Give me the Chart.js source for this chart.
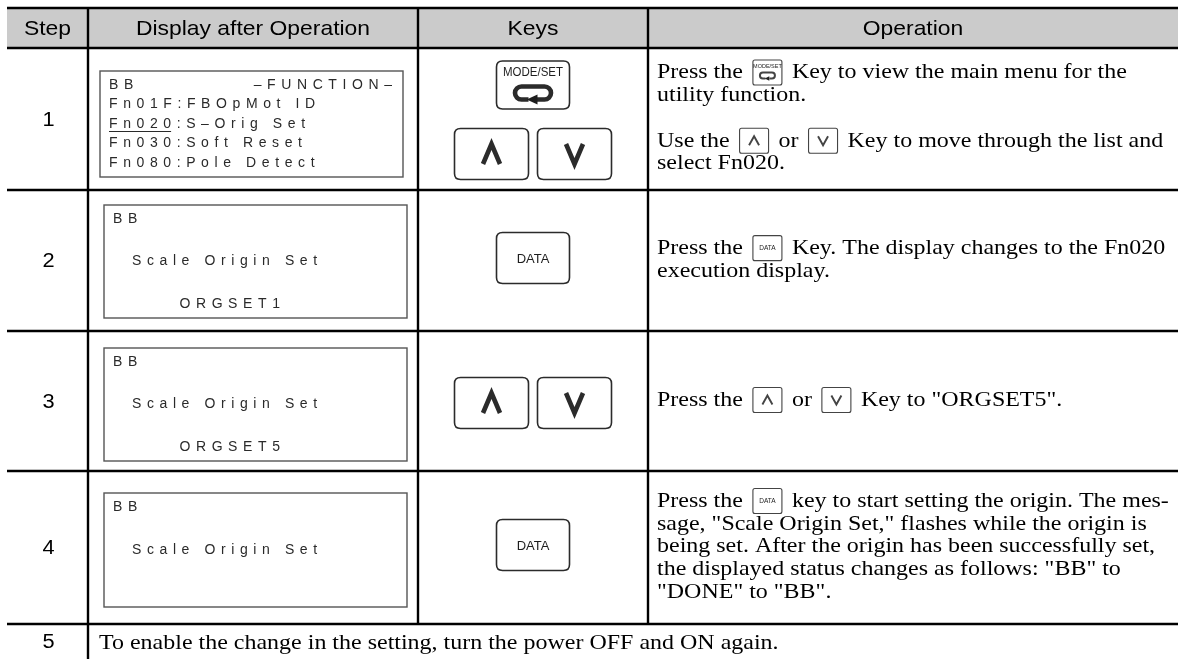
<!DOCTYPE html>
<html>
<head>
<meta charset="utf-8">
<script src="https://cdn.jsdelivr.net/npm/chart.js@4"></script>
<style>
  html, body { margin: 0; padding: 0; background: #fff; }
  #wrap { width: 1184px; height: 659px; }
</style>
</head>
<body>
<div id="wrap"><canvas id="stepChart" width="1184" height="659"></canvas></div>
<script>
// --- Table content ---
const headers = ["Step", "Display after Operation", "Keys", "Operation"];
const steps = ["1", "2", "3", "4", "5"];

// operator panel lines, "\t" splits left / right aligned parts
const displayRows = [
  ["BB\t\u2013FUNCTION\u2013", "Fn01F:FBOpMot ID", "Fn020:S\u2013Orig Set", "Fn030:Soft Reset", "Fn080:Pole Detect"],
  ["BB", "", "  Scale Origin Set", "", "       ORGSET1"],
  ["BB", "", "  Scale Origin Set", "", "       ORGSET5"],
  ["BB", "", "  Scale Origin Set", "", ""]
];
const cursorMarks = [[2, 5], null, null, null]; // [line, underlined chars]

const keyRows = [
  [["mode"], ["up", "down"]],
  [["data"]],
  [["up", "down"]],
  [["data"]]
];

const operationRows = [
  ["Press the {mode} Key to view the main menu for the", "utility function.", "",
   "Use the {up} or {down} Key to move through the list and", "select Fn020."],
  ["Press the {data} Key. The display changes to the Fn020", "execution display."],
  ["Press the {up} or {down} Key to \"ORGSET5\"."],
  ["Press the {data} key to start setting the origin. The mes-",
   "sage, \"Scale Origin Set,\" flashes while the origin is",
   "being set. After the origin has been successfully set,",
   "the displayed status changes as follows: \"BB\" to",
   "\"DONE\" to \"BB\"."]
];
const finalNote = "To enable the change in the setting, turn the power OFF and ON again.";

// --- Layout (page units, mapped through the chart scales) ---
const colX = [7, 88, 418, 648, 1178];
const rowY = [8, 48, 190, 331, 471, 624, 659];
const lcdBoxes = [[100, 71, 403, 177], [104, 205, 407, 318], [104, 348, 407, 461], [104, 493, 407, 607]];
const keyGroupY = [[85, 154], [258], [403], [545]];
const opLineGap = 22.75;

const SANS = "'Liberation Sans', Arial, sans-serif";
const SERIF = "'Liberation Serif', 'Times New Roman', serif";
const WIDE = 1.09; // the scanned page is a bit wider than tall

// --- Drawing helpers ---
function roundRect(ctx, x, y, w, h, r) {
  ctx.beginPath();
  ctx.moveTo(x + r, y);
  ctx.lineTo(x + w - r, y);
  ctx.quadraticCurveTo(x + w, y, x + w, y + r);
  ctx.lineTo(x + w, y + h - r);
  ctx.quadraticCurveTo(x + w, y + h, x + w - r, y + h);
  ctx.lineTo(x + r, y + h);
  ctx.quadraticCurveTo(x, y + h, x, y + h - r);
  ctx.lineTo(x, y + r);
  ctx.quadraticCurveTo(x, y, x + r, y);
  ctx.closePath();
}

// text drawn with a horizontal stretch; returns its width
function wideText(ctx, text, x, y, k) {
  ctx.save();
  ctx.translate(x, y);
  ctx.scale(k, 1);
  ctx.fillText(text, 0, 0);
  ctx.restore();
  return ctx.measureText(text).width * k;
}

function spacedWidth(ctx, text, spacing) {
  let w = 0;
  for (const ch of text) w += ctx.measureText(ch).width + spacing;
  return w - spacing;
}

function drawSpaced(ctx, text, x, y, spacing) {
  let cx = x;
  for (const ch of text) {
    ctx.fillText(ch, cx, y);
    cx += ctx.measureText(ch).width + spacing;
  }
  return cx - spacing;
}

function chevron(ctx, cx, cy, w, h, up, lw) {
  ctx.beginPath();
  if (up) {
    ctx.moveTo(cx - w / 2, cy + h / 2);
    ctx.lineTo(cx, cy - h / 2);
    ctx.lineTo(cx + w / 2, cy + h / 2);
  } else {
    ctx.moveTo(cx - w / 2, cy - h / 2);
    ctx.lineTo(cx, cy + h / 2);
    ctx.lineTo(cx + w / 2, cy - h / 2);
  }
  ctx.lineWidth = lw;
  ctx.lineJoin = "miter";
  ctx.stroke();
}

function returnIcon(ctx, cx, cy, w, h, lw) {
  const r = h / 2;
  ctx.lineWidth = lw;
  ctx.lineCap = "butt";
  ctx.beginPath();
  ctx.moveTo(cx + 2, cy + r);
  ctx.lineTo(cx + w / 2 - r, cy + r);
  ctx.arc(cx + w / 2 - r, cy, r, Math.PI / 2, -Math.PI / 2, true);
  ctx.lineTo(cx - w / 2 + r, cy - r);
  ctx.arc(cx - w / 2 + r, cy, r, -Math.PI / 2, Math.PI / 2, true);
  ctx.lineTo(cx - w / 8, cy + r);
  ctx.stroke();
  ctx.beginPath();
  ctx.moveTo(cx - w / 8 - lw * 0.4, cy + r);
  ctx.lineTo(cx + w / 8, cy + r - lw * 1.1);
  ctx.lineTo(cx + w / 8, cy + r + lw * 1.1);
  ctx.closePath();
  ctx.fill();
}

function bigKey(ctx, type, cx, cy) {
  const w = type === "up" || type === "down" ? 74 : 73;
  const h = type === "mode" ? 48 : 51;
  ctx.save();
  ctx.strokeStyle = "#2b2b2b";
  ctx.fillStyle = "#1e1e1e";
  ctx.lineWidth = 1.6;
  roundRect(ctx, cx - w / 2, cy - h / 2, w, h, 6);
  ctx.stroke();
  ctx.textAlign = "center";
  ctx.textBaseline = "middle";
  if (type === "up" || type === "down") {
    chevron(ctx, cx, cy, 17, 20, type === "up", 4.6);
  } else if (type === "data") {
    ctx.font = "13px " + SANS;
    ctx.fillText("DATA", cx, cy + 1);
  } else {
    ctx.font = "12.5px " + SANS;
    ctx.save();
    ctx.translate(cx, cy - 12);
    ctx.scale(0.92, 1);
    ctx.fillText("MODE/SET", 0, 0);
    ctx.restore();
    returnIcon(ctx, cx, cy + 8, 36, 13, 4.6);
  }
  ctx.restore();
}

function smallKey(ctx, type, x, cy) {
  const w = 29, h = 25;
  ctx.save();
  ctx.strokeStyle = "#444";
  ctx.fillStyle = "#222";
  ctx.lineWidth = 1.1;
  roundRect(ctx, x, cy - h / 2, w, h, 2);
  ctx.stroke();
  const cx = x + w / 2;
  ctx.textAlign = "center";
  ctx.textBaseline = "middle";
  if (type === "up" || type === "down") {
    chevron(ctx, cx, cy, 10, 9, type === "up", 1.9);
  } else if (type === "data") {
    ctx.font = "6.5px " + SANS;
    ctx.fillText("DATA", cx, cy);
  } else {
    ctx.font = "5.5px " + SANS;
    ctx.fillText("MODE/SET", cx, cy - 6);
    returnIcon(ctx, cx, cy + 3, 15, 6, 2);
  }
  ctx.restore();
  return w;
}

function drawRichLine(ctx, line, x, y) {
  let cx = x;
  line.split(/(\{\w+\})/).forEach(part => {
    if (!part) return;
    const m = part.match(/^\{(\w+)\}$/);
    if (m) {
      cx += smallKey(ctx, m[1], cx + 4, y) + 8;
    } else {
      cx += wideText(ctx, part, cx, y, WIDE);
    }
  });
}

// --- Plugin that lays the table out on the chart scales ---
const tablePlugin = {
  id: "stepTable",
  afterDraw(chart) {
    const ctx = chart.ctx;
    const sx = v => chart.scales.x.getPixelForValue(v);
    const sy = v => chart.scales.y.getPixelForValue(v);
    const left = sx(colX[0]), right = sx(colX[colX.length - 1]);

    ctx.save();
    // header band
    ctx.fillStyle = "#cbcbcb";
    ctx.fillRect(left, sy(rowY[0]), right - left, sy(rowY[1]) - sy(rowY[0]));

    // rules
    ctx.strokeStyle = "#000";
    ctx.lineWidth = 2.4;
    ctx.lineCap = "butt";
    rowY.slice(0, rowY.length - 1).forEach(y => {
      ctx.beginPath();
      ctx.moveTo(left, sy(y));
      ctx.lineTo(right, sy(y));
      ctx.stroke();
    });
    colX.slice(1, colX.length - 1).forEach((x, i) => {
      ctx.beginPath();
      ctx.moveTo(sx(x), sy(rowY[0]));
      ctx.lineTo(sx(x), sy(i === 0 ? rowY[rowY.length - 1] : rowY[rowY.length - 2]));
      ctx.stroke();
    });

    // header labels
    ctx.fillStyle = "#000";
    ctx.font = "21px " + SANS;
    ctx.textAlign = "center";
    ctx.textBaseline = "middle";
    headers.forEach((h, i) => {
      wideText(ctx, h, (sx(colX[i]) + sx(colX[i + 1])) / 2, (sy(rowY[0]) + sy(rowY[1])) / 2 + 1, WIDE);
    });

    // step numbers
    ctx.font = "20px " + SANS;
    steps.forEach((s, i) => {
      wideText(ctx, s, (sx(colX[0]) + sx(colX[1])) / 2 + 1, (sy(rowY[i + 1]) + sy(rowY[i + 2])) / 2 + 1, WIDE);
    });

    // operator panels
    displayRows.forEach((lines, r) => {
      const [bx0, by0, bx1, by1] = lcdBoxes[r];
      const x0 = sx(bx0), y0 = sy(by0), x1 = sx(bx1), y1 = sy(by1);
      ctx.strokeStyle = "#555";
      ctx.lineWidth = 1.4;
      ctx.strokeRect(x0, y0, x1 - x0, y1 - y0);
      ctx.fillStyle = "#2a2a2a";
      ctx.font = "14px " + SANS;
      ctx.textAlign = "left";
      ctx.textBaseline = "middle";
      const first = y0 + 14, last = y1 - 14;
      const step = (last - first) / (lines.length - 1);
      lines.forEach((ln, j) => {
        if (!ln) return;
        const y = first + step * j;
        const [a, b] = ln.split("\t");
        drawSpaced(ctx, a, x0 + 9, y, 5.6);
        if (b) {
          const bw = spacedWidth(ctx, b, 5.6);
          drawSpaced(ctx, b, x1 - 11 - bw, y, 5.6);
        }
        const mark = cursorMarks[r];
        if (mark && mark[0] === j) {
          const uw = spacedWidth(ctx, a.slice(0, mark[1]), 5.6);
          ctx.strokeStyle = "#2a2a2a";
          ctx.lineWidth = 1.1;
          ctx.beginPath();
          ctx.moveTo(x0 + 9, y + 7.5);
          ctx.lineTo(x0 + 9 + uw, y + 7.5);
          ctx.stroke();
        }
      });
    });

    // keys
    const keyCx = (sx(colX[2]) + sx(colX[3])) / 2;
    keyRows.forEach((groups, r) => {
      groups.forEach((g, k) => {
        const cy = sy(keyGroupY[r][k]);
        if (g.length === 1) {
          bigKey(ctx, g[0], keyCx, cy);
        } else {
          bigKey(ctx, g[0], keyCx - 41.5, cy);
          bigKey(ctx, g[1], keyCx + 41.5, cy);
        }
      });
    });

    // operation text, centred vertically in each row
    ctx.fillStyle = "#000";
    ctx.font = "22px " + SERIF;
    ctx.textAlign = "left";
    ctx.textBaseline = "middle";
    operationRows.forEach((lines, r) => {
      const mid = (rowY[r + 1] + rowY[r + 2]) / 2 - 1;
      const top = mid - opLineGap * (lines.length - 1) / 2;
      lines.forEach((ln, j) => {
        if (ln) drawRichLine(ctx, ln, sx(colX[3]) + 9, sy(top + opLineGap * j));
      });
    });
    wideText(ctx, finalNote, sx(colX[1]) + 11, (sy(rowY[5]) + sy(rowY[6])) / 2 + 2, WIDE);
    ctx.restore();
  }
};

// --- Chart ---
new Chart(document.getElementById("stepChart"), {
  type: "scatter",
  data: { datasets: [{ data: [], pointRadius: 0 }] },
  options: {
    responsive: false,
    animation: false,
    layout: { padding: 0 },
    plugins: { legend: { display: false }, tooltip: { enabled: false } },
    scales: {
      x: { type: "linear", min: 0, max: 1184, display: false },
      y: { type: "linear", min: 0, max: 659, reverse: true, display: false }
    }
  },
  plugins: [tablePlugin]
});
</script>
</body>
</html>
